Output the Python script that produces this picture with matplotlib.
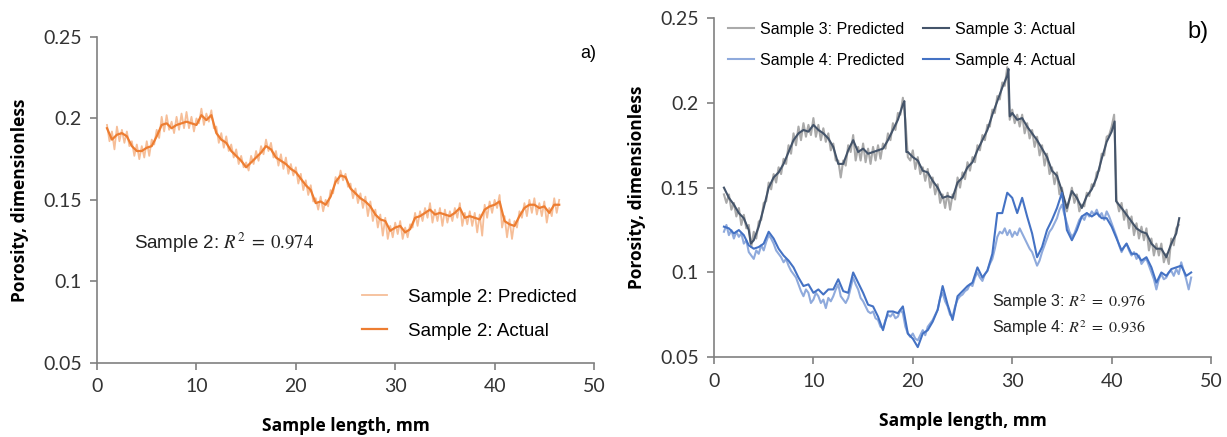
import numpy as np
import matplotlib
matplotlib.use("Agg")
import matplotlib.pyplot as plt

plt.rcParams['mathtext.fontset'] = 'stix'

# ---------------- data ----------------
# Sample 2 (panel a)
s2_act_x = np.arange(1.0, 46.51, 0.5)
s2_act = [0.194, 0.187, 0.190, 0.191, 0.189, 0.183, 0.180, 0.180, 0.182, 0.183,
          0.189, 0.196, 0.197, 0.194, 0.196, 0.197, 0.198, 0.197, 0.196, 0.202,
          0.199, 0.202, 0.191, 0.187, 0.185, 0.180, 0.177, 0.174, 0.170, 0.173,
          0.176, 0.179, 0.183, 0.181, 0.176, 0.174, 0.172, 0.169, 0.167, 0.163,
          0.159, 0.156, 0.148, 0.149, 0.147, 0.152, 0.161, 0.165, 0.164, 0.157,
          0.154, 0.151, 0.149, 0.146, 0.141, 0.138, 0.137, 0.131, 0.133, 0.134,
          0.130, 0.132, 0.139, 0.140, 0.142, 0.144, 0.141, 0.142, 0.141, 0.140,
          0.142, 0.145, 0.139, 0.140, 0.139, 0.138, 0.144, 0.146, 0.147, 0.149,
          0.137, 0.135, 0.134, 0.140, 0.145, 0.147, 0.147, 0.145, 0.146, 0.142,
          0.147, 0.147]

s2_pred_x = np.arange(1.0, 46.51, 0.25)
s2_pred = [0.196, 0.186, 0.192, 0.181, 0.195, 0.186, 0.193, 0.185, 0.192, 0.183, 0.186, 0.177,
           0.184, 0.175, 0.183, 0.176, 0.186, 0.177, 0.187, 0.184, 0.193, 0.188, 0.201, 0.192,
           0.202, 0.193, 0.198, 0.191, 0.201, 0.193, 0.203, 0.194, 0.204, 0.194, 0.201, 0.192,
           0.200, 0.197, 0.206, 0.196, 0.203, 0.198, 0.205, 0.194, 0.195, 0.185, 0.191, 0.182,
           0.189, 0.180, 0.184, 0.176, 0.181, 0.172, 0.177, 0.170, 0.173, 0.168, 0.177, 0.172,
           0.180, 0.174, 0.183, 0.178, 0.187, 0.180, 0.185, 0.176, 0.180, 0.171, 0.178, 0.169,
           0.176, 0.166, 0.172, 0.165, 0.170, 0.160, 0.166, 0.156, 0.162, 0.153, 0.159, 0.149,
           0.151, 0.144, 0.152, 0.143, 0.150, 0.146, 0.156, 0.154, 0.164, 0.160, 0.168, 0.162,
           0.166, 0.158, 0.160, 0.151, 0.157, 0.148, 0.154, 0.145, 0.152, 0.140, 0.149, 0.137,
           0.144, 0.133, 0.141, 0.128, 0.139, 0.126, 0.134, 0.127, 0.136, 0.129, 0.137, 0.126,
           0.133, 0.127, 0.135, 0.133, 0.142, 0.134, 0.143, 0.137, 0.145, 0.139, 0.148, 0.136,
           0.144, 0.137, 0.145, 0.134, 0.144, 0.136, 0.143, 0.137, 0.145, 0.139, 0.148, 0.134,
           0.142, 0.135, 0.143, 0.134, 0.142, 0.130, 0.141, 0.128, 0.147, 0.139, 0.149, 0.142,
           0.150, 0.145, 0.153, 0.133, 0.140, 0.127, 0.138, 0.126, 0.137, 0.133, 0.143, 0.139,
           0.148, 0.140, 0.150, 0.142, 0.151, 0.141, 0.148, 0.140, 0.149, 0.136, 0.145, 0.140,
           0.151, 0.142, 0.150]

# Sample 3 (panel b)
s3_act_x = [1.0, 1.5, 2.0, 2.5, 3.0, 3.5, 3.7, 4.0, 4.5, 5.0, 5.5, 6.0, 6.5, 7.0, 7.5,
            8.0, 8.5, 9.0, 9.5, 10.0, 10.5, 11.0, 11.5, 12.0, 12.5, 13.0, 13.5, 14.0,
            14.5, 15.0, 15.5, 16.0, 16.5, 17.0, 17.5, 18.0, 18.5, 19.0, 19.15, 19.35,
            19.5, 20.0, 20.5, 21.0, 21.5, 22.0, 22.5, 23.0, 23.5, 24.0, 24.5, 25.0,
            25.5, 26.0, 26.5, 27.0, 27.5, 28.0, 28.5, 29.0, 29.5, 29.62, 29.75, 30.0,
            30.5, 31.0, 31.5, 32.0, 32.5, 33.0, 33.5, 34.0, 34.5, 35.0, 35.5, 36.0,
            36.5, 37.0, 37.5, 38.0, 38.5, 39.0, 39.5, 40.0, 40.3, 40.45, 41.0, 41.5,
            42.0, 42.5, 43.0, 43.5, 44.0, 44.5, 45.0, 45.5, 46.0, 46.5, 46.8]
s3_act = [0.150, 0.144, 0.140, 0.135, 0.132, 0.125, 0.117, 0.119, 0.127, 0.138, 0.150,
          0.156, 0.159, 0.164, 0.171, 0.178, 0.182, 0.184, 0.183, 0.187, 0.184, 0.182,
          0.179, 0.174, 0.164, 0.164, 0.172, 0.178, 0.171, 0.173, 0.170, 0.171, 0.172,
          0.173, 0.178, 0.184, 0.190, 0.199, 0.201, 0.171, 0.171, 0.168, 0.166, 0.160,
          0.159, 0.154, 0.150, 0.144, 0.145, 0.144, 0.153, 0.156, 0.162, 0.165, 0.172,
          0.178, 0.184, 0.193, 0.201, 0.209, 0.216, 0.220, 0.192, 0.194, 0.190, 0.191,
          0.186, 0.182, 0.178, 0.173, 0.168, 0.160, 0.157, 0.148, 0.138, 0.148, 0.144,
          0.138, 0.145, 0.149, 0.156, 0.167, 0.177, 0.183, 0.189, 0.142, 0.138, 0.134,
          0.130, 0.126, 0.124, 0.123, 0.117, 0.114, 0.114, 0.109, 0.117, 0.123, 0.132]

s3_pred_x = np.arange(1.0, 46.76, 0.25)
s3_pred = [0.146, 0.141, 0.146, 0.137, 0.141, 0.133, 0.138, 0.128, 0.134, 0.126, 0.128, 0.115,
           0.124, 0.120, 0.130, 0.131, 0.141, 0.142, 0.153, 0.149, 0.158, 0.153, 0.162, 0.158,
           0.167, 0.164, 0.175, 0.170, 0.182, 0.175, 0.186, 0.178, 0.188, 0.180, 0.187, 0.181,
           0.191, 0.180, 0.187, 0.178, 0.185, 0.177, 0.182, 0.172, 0.176, 0.166, 0.166, 0.156,
           0.166, 0.163, 0.175, 0.171, 0.181, 0.166, 0.174, 0.166, 0.176, 0.165, 0.173, 0.164,
           0.174, 0.166, 0.175, 0.167, 0.176, 0.173, 0.182, 0.178, 0.188, 0.184, 0.194, 0.193,
           0.203, 0.190, 0.168, 0.166, 0.172, 0.161, 0.168, 0.158, 0.162, 0.154, 0.161, 0.150,
           0.156, 0.146, 0.152, 0.141, 0.146, 0.138, 0.147, 0.137, 0.146, 0.143, 0.156, 0.150,
           0.159, 0.155, 0.165, 0.160, 0.168, 0.165, 0.175, 0.172, 0.181, 0.178, 0.187, 0.186,
           0.196, 0.194, 0.204, 0.202, 0.212, 0.210, 0.221, 0.190, 0.196, 0.188, 0.193, 0.186,
           0.193, 0.182, 0.188, 0.179, 0.184, 0.174, 0.180, 0.169, 0.175, 0.163, 0.170, 0.158,
           0.162, 0.152, 0.159, 0.146, 0.150, 0.140, 0.136, 0.143, 0.150, 0.141, 0.146, 0.136,
           0.140, 0.139, 0.147, 0.145, 0.152, 0.151, 0.159, 0.160, 0.170, 0.169, 0.180, 0.181,
           0.186, 0.193, 0.143, 0.136, 0.141, 0.131, 0.137, 0.126, 0.133, 0.122, 0.129, 0.120,
           0.127, 0.119, 0.126, 0.113, 0.120, 0.110, 0.117, 0.110, 0.117, 0.106, 0.111, 0.105,
           0.120, 0.116, 0.126, 0.128]

# Sample 4 (panel b)
s4_act_x = np.arange(1.0, 48.01, 0.5)
s4_act = [0.127, 0.126, 0.123, 0.125, 0.122, 0.116, 0.114, 0.115, 0.117, 0.124,
          0.120, 0.114, 0.110, 0.107, 0.103, 0.097, 0.092, 0.093, 0.088, 0.090,
          0.087, 0.090, 0.090, 0.096, 0.089, 0.088, 0.100, 0.094, 0.088, 0.081,
          0.080, 0.074, 0.066, 0.077, 0.077, 0.076, 0.080, 0.064, 0.061, 0.056,
          0.064, 0.066, 0.071, 0.078, 0.092, 0.081, 0.072, 0.086, 0.089, 0.092,
          0.094, 0.103, 0.097, 0.101, 0.111, 0.135, 0.135, 0.147, 0.144, 0.135,
          0.144, 0.133, 0.123, 0.109, 0.115, 0.125, 0.131, 0.138, 0.147, 0.125,
          0.119, 0.125, 0.133, 0.135, 0.133, 0.135, 0.132, 0.132, 0.127, 0.120,
          0.113, 0.117, 0.111, 0.111, 0.107, 0.109, 0.103, 0.094, 0.100, 0.098,
          0.102, 0.103, 0.104, 0.098, 0.100]

s4_pred_x = np.arange(1.0, 48.01, 0.25)
s4_pred = [0.124, 0.128, 0.122, 0.125, 0.120, 0.124, 0.121, 0.123, 0.117, 0.119, 0.112, 0.110,
           0.108, 0.113, 0.111, 0.116, 0.113, 0.118, 0.122, 0.120, 0.117, 0.113, 0.111, 0.109,
           0.106, 0.108, 0.104, 0.101, 0.099, 0.097, 0.093, 0.089, 0.086, 0.090, 0.088, 0.082,
           0.084, 0.088, 0.086, 0.082, 0.084, 0.079, 0.085, 0.083, 0.086, 0.090, 0.093, 0.086,
           0.084, 0.082, 0.085, 0.091, 0.097, 0.093, 0.090, 0.085, 0.083, 0.080, 0.077, 0.076,
           0.077, 0.073, 0.072, 0.068, 0.067, 0.072, 0.075, 0.074, 0.076, 0.073, 0.074, 0.078,
           0.076, 0.068, 0.064, 0.062, 0.064, 0.061, 0.060, 0.063, 0.066, 0.063, 0.068, 0.070,
           0.072, 0.075, 0.078, 0.085, 0.088, 0.083, 0.080, 0.075, 0.074, 0.080, 0.084, 0.086,
           0.087, 0.089, 0.090, 0.093, 0.092, 0.097, 0.100, 0.097, 0.095, 0.099, 0.101, 0.105,
           0.108, 0.114, 0.121, 0.124, 0.123, 0.126, 0.122, 0.125, 0.121, 0.124, 0.122, 0.126,
           0.123, 0.120, 0.117, 0.114, 0.112, 0.108, 0.104, 0.107, 0.112, 0.116, 0.120, 0.124,
           0.126, 0.129, 0.132, 0.137, 0.140, 0.134, 0.129, 0.124, 0.121, 0.123, 0.127, 0.131,
           0.133, 0.131, 0.135, 0.133, 0.136, 0.134, 0.137, 0.133, 0.135, 0.131, 0.136, 0.133,
           0.129, 0.125, 0.121, 0.116, 0.112, 0.115, 0.117, 0.113, 0.110, 0.112, 0.108, 0.110,
           0.105, 0.107, 0.108, 0.104, 0.100, 0.096, 0.090, 0.096, 0.099, 0.096, 0.097, 0.100,
           0.101, 0.098, 0.102, 0.099, 0.106, 0.101, 0.096, 0.090, 0.097]

x_ticks = [0, 10, 20, 30, 40, 50]
y_ticks = [0.05, 0.1, 0.15, 0.2, 0.25]
y_ticklabels = ['0.05', '0.1', '0.15', '0.2', '0.25']

# ---------------- styling ----------------
C2_PRED, C2_ACT = '#F6BE98', '#ED7D31'
C3_PRED, C3_ACT = '#AAAAAA', '#44546A'
C4_PRED, C4_ACT = '#8FAADC', '#4472C4'
SPINE = '#808080'
TICK_FONT = 'Lato'
LEG_FONT = 'Liberation Sans'

fig = plt.figure(figsize=(12.27, 4.37), dpi=100)
axA = fig.add_axes([0.0791, 0.170, 0.4050, 0.7453])
axB = fig.add_axes([0.5819, 0.1824, 0.4051, 0.7764])


def style(ax):
    ax.set_xlim(0, 50)
    ax.set_ylim(0.05, 0.25)
    ax.set_xticks(x_ticks)
    ax.set_yticks(y_ticks)
    ax.set_yticklabels(y_ticklabels)
    for s in ('top', 'right'):
        ax.spines[s].set_visible(False)
    for s in ('left', 'bottom'):
        ax.spines[s].set_color(SPINE)
        ax.spines[s].set_linewidth(1.2)
    ax.tick_params(axis='both', direction='out', length=5, width=1.2, color=SPINE,
                   labelsize=14, labelcolor='#333333', pad=6)
    for lab in ax.get_xticklabels() + ax.get_yticklabels():
        lab.set_fontfamily(TICK_FONT)
    ax.set_xlabel('Sample length, mm', fontsize=12.5, fontweight='bold',
                  fontfamily='Open Sans', labelpad=16)
    ax.set_ylabel('Porosity, dimensionless', fontsize=12.5, fontweight='bold',
                  fontfamily='Open Sans', labelpad=10)


# Panel a
pa, = axA.plot(s2_pred_x, s2_pred, color=C2_PRED, lw=1.3, label='Sample 2: Predicted')
aa, = axA.plot(s2_act_x, s2_act, color=C2_ACT, lw=1.6, label='Sample 2: Actual')
style(axA)
axA.legend(handles=[pa, aa], loc='upper left', bbox_to_anchor=(0.5, 0.28), frameon=False,
           prop={'family': LEG_FONT, 'size': 13.5}, handlelength=1.33, handletextpad=1.1,
           labelspacing=0.9)
axA.text(0.075, 0.368, r'Sample 2: $R^2\;=\;0.974$', transform=axA.transAxes,
         fontsize=13.5, fontfamily=LEG_FONT, color='#222222', va='center')
axA.text(1.005, 0.95, 'a)', transform=axA.transAxes, fontsize=13,
         fontfamily=LEG_FONT, ha='right', va='center')

# Panel b
p3, = axB.plot(s3_pred_x, s3_pred, color=C3_PRED, lw=1.5, label='Sample 3: Predicted')
p4, = axB.plot(s4_pred_x, s4_pred, color=C4_PRED, lw=1.5, label='Sample 4: Predicted')
a3, = axB.plot(s3_act_x, s3_act, color=C3_ACT, lw=1.5, label='Sample 3: Actual')
a4, = axB.plot(s4_act_x, s4_act, color=C4_ACT, lw=1.5, label='Sample 4: Actual')
style(axB)
axB.legend(handles=[p3, p4, a3, a4], ncol=2, loc='upper left', bbox_to_anchor=(0.0, 1.031),
           frameon=False, prop={'family': LEG_FONT, 'size': 11.5}, handlelength=1.6,
           handletextpad=0.4, columnspacing=1.17, labelspacing=1.0)
axB.text(0.56, 0.163, r'Sample 3: $R^2\;=\;0.976$', transform=axB.transAxes,
         fontsize=11.5, fontfamily=LEG_FONT, color='#222222', va='center')
axB.text(0.56, 0.086, r'Sample 4: $R^2\;=\;0.936$', transform=axB.transAxes,
         fontsize=11.5, fontfamily=LEG_FONT, color='#222222', va='center')
axB.text(0.995, 0.96, 'b)', transform=axB.transAxes, fontsize=17,
         fontfamily=LEG_FONT, ha='right', va='center')

fig.savefig('out.png', dpi=100)
